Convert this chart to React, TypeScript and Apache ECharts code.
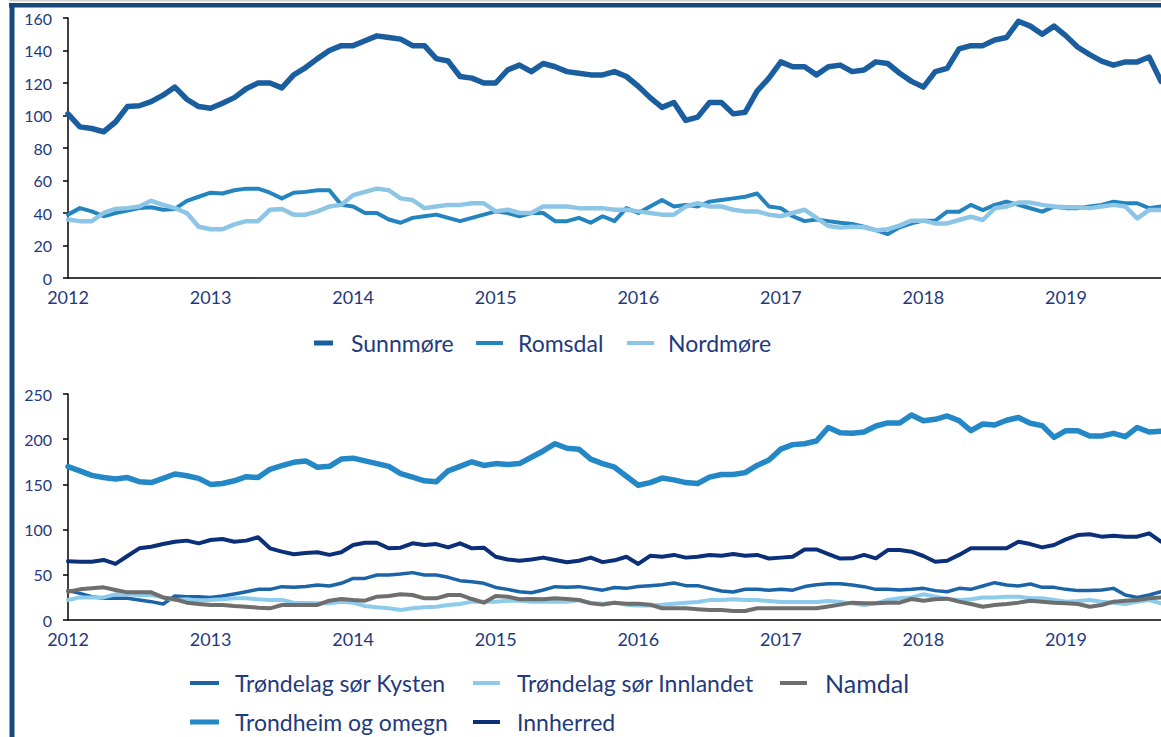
import React, { useEffect, useRef } from "react";
import * as echarts from "echarts";

// ---- categories (monthly, Jan 2012 – Sep 2019) ----
const years = ["2012", "2013", "2014", "2015", "2016", "2017", "2018", "2019"];
const monthNames = ["01", "02", "03", "04", "05", "06", "07", "08", "09", "10", "11", "12"];
const months: string[] = [];
years.forEach((y) => monthNames.forEach((m) => months.push(`${y}-${m}`)));
const categories = months.slice(0, 93);

// ---- top chart series ----
const sunnmore = [
  101, 93, 92, 90, 96, 105.5, 106, 108.5, 112.5, 117.5,
  110, 105.5, 104.5, 107.5, 111, 116.5, 120, 120, 117, 125,
  129.5, 135, 140, 143, 143, 146, 149, 148, 147, 143,
  143, 135, 133.5, 124, 123, 120, 120, 128, 131, 127,
  132, 130, 127, 126, 125, 125, 127, 124, 118, 111,
  105, 108, 97, 99, 108, 108, 101, 102, 115, 123,
  133, 130, 130, 125, 130, 131, 127, 128, 133, 132,
  126, 121, 117.5, 127, 129, 141, 143, 143, 146.5, 148,
  158, 155, 150, 155, 149, 142, 137.5, 133.5, 131, 133,
  133, 136, 121,
];
const romsdal = [
  39, 43, 41, 38, 40, 41.5, 43, 43.5, 42, 42.5,
  47.5, 50, 52.5, 52, 54, 55, 55, 52.5, 49, 52.5,
  53, 54, 54, 45, 44, 40, 40, 36, 34, 37,
  38, 39, 37, 35, 37, 39, 41, 40, 38, 40,
  40, 35, 35, 37, 34, 38, 35, 43, 40, 44,
  48, 44, 45, 44, 47, 48, 49, 50, 52, 44,
  43, 38, 35, 36, 35, 34,
  33.2, 31.6, 29.5, 27, 31.2, 33.6, 35.3, 35.3, 40.8, 40.8,
  45, 41.8, 45, 47, 45, 42.9, 40.8, 43.9, 43, 43,
  44, 45, 47, 46, 46, 43, 44,
];
const nordmore = [
  36, 35, 35, 40, 42.5, 43, 44, 47.5, 45, 43,
  40, 31.5, 30, 30, 33, 35, 35, 42, 42.5, 39,
  39, 41, 44, 45, 51, 53, 55, 54, 49, 48,
  43, 44, 45, 45, 46, 46, 41, 42, 40, 40,
  44, 44, 44, 43, 43, 43, 42, 42, 41, 40,
  39, 39, 44, 46, 44, 44, 42, 41, 41, 39,
  38, 40, 42, 37, 32, 31,
  31.6, 31.2, 29.3, 30, 32.2, 35.3, 35.3, 33.6, 33.6, 35.7,
  37.7, 35.7, 42.9, 44, 46.4, 46.4, 45, 44, 43.5, 43.5,
  43, 44, 45, 44, 36.7, 41.8, 41.8,
];

// ---- bottom chart series ----
const kysten = [
  32.5, 29.5, 25.8, 24, 24, 24, 22.1, 20.3, 17.7, 26.5,
  25.8, 25.8, 25, 26.5, 28.8, 31.3, 33.9, 33.9, 36.9, 36.1,
  37, 38.7, 37.6, 40.6, 46, 46, 49.8, 49.8, 50.9, 52.4,
  49.8, 49.8, 47.2, 43.5, 42.4, 40.6, 36, 33.9, 31.3, 30.2,
  33.2, 36.9, 36.1, 36.9, 35,
  33, 36, 35, 37, 38, 39, 41, 38, 38, 35,
  32, 31, 34, 34, 33, 34, 33, 37, 39, 40, 40,
  38.7, 36.9, 33.9, 33.9, 33.2, 33.9, 35, 32.5, 31.3, 35,
  33.9, 37.6, 41.3, 38.7, 37.6, 39.8, 36.1, 36.1, 33.9, 32.5,
  32.5, 33.2, 35, 27.7, 25, 27.7, 31.3,
];
const innlandet = [
  22.1, 25, 25, 25, 28.4, 28.4, 27.7, 27.7, 25, 22.1,
  22.9, 21.4, 22.1, 22.9, 24, 24, 22.9, 22.1, 22.1, 19.2,
  18.8, 18.4, 18.4, 20.3, 19.2, 15.5, 14, 12.9, 11, 12.9,
  14, 14.7, 16.6, 17.7, 20.3, 20.3, 20.3, 21.4, 21.4, 20.3,
  20.3, 20.3, 20.3, 22.1, 19.2,
  18, 19, 17, 16, 16, 17, 18, 19, 20, 22,
  22, 23, 22, 22, 21, 20, 20, 20, 20, 21, 20,
  18.4, 16.6, 18.4, 22.1, 24, 25, 28.4, 25.8, 23.2, 22.1,
  22.9, 25, 25, 25.8, 25.8, 24, 24, 22.1, 20.3, 21,
  22.1, 20.3, 19.2, 17.7, 20.3, 22.1, 18.4,
];
const namdal = [
  31.3, 33.9, 35, 36.1, 33.2, 30.6, 30.6, 30.6, 25, 22.9,
  19.2, 17.7, 16.6, 16.6, 15.5, 14.7, 13.6, 12.9, 16.6, 16.6,
  16.6, 16.6, 21.4, 23.2, 22.1, 21.4, 25.8, 26.5, 28.4, 27.7,
  24, 24, 27.7, 27.7, 23.2, 19.2, 26.5, 25.8, 22.9, 23.2,
  22.9, 24, 23.2, 22.1, 18.4,
  17, 19, 18, 18, 17, 13, 13, 13, 12, 11,
  11, 10, 10, 13, 13, 13, 13, 13, 13, 15, 17,
  19.2, 18.4, 18.4, 19.2, 19.2, 23.2, 21.4, 22.9, 23.6, 20.3,
  17.7, 14.7, 16.6, 17.7, 19.2, 21.4, 20.3, 19.2, 18.4, 17.7,
  14.7, 16.6, 20.3, 21.4, 22.1, 24, 25,
];
const trondheim = [
  169.6, 165, 160, 157.6, 156, 157.6, 153, 152, 156.7, 161.5,
  159.6, 156.7, 150, 151, 154, 158.5, 157.6, 166.7, 170.7, 174.4,
  176, 169, 170, 178, 179, 176, 173, 170, 162, 158,
  154, 153, 165, 170, 175, 171, 173, 172, 173, 180,
  187, 195, 190, 189, 178, 173, 169, 159, 149, 152,
  157, 155, 152, 151, 158, 161, 161, 163, 171, 177,
  189, 194, 195, 198, 213, 207,
  206.5, 208, 214.6, 218, 218, 226.8, 220.5, 222, 225.7, 220.5,
  209.4, 216.8, 215.7, 221, 224, 217.6, 215, 202, 209.4, 209.4,
  203.5, 203.5, 206.5, 202.8, 213, 208, 208.7,
];
const innherred = [
  65, 64.5, 64.5, 66.4, 62, 70.8, 79.3, 81, 84, 86.6,
  87.8, 84.8, 88.5, 89.6, 86.6, 87.8, 91.5, 79.3, 75.6, 72.7,
  74, 74.9, 72, 74.9, 83, 85.5, 85.5, 79.3, 80, 84.8,
  83, 84, 80.3, 84.8, 79.3, 80, 70, 67, 65.6, 67,
  69, 66.4, 63.8, 65.6, 69,
  64, 66, 70, 62, 71, 70, 72, 69, 70, 72,
  71, 73, 71, 72, 68, 69, 70, 78, 78, 73, 68,
  68.2, 72, 68.2, 77.4, 77.4, 75.6, 70.8, 64.5, 65.6, 72,
  79.3, 79.3, 79.3, 79.3, 86.6, 84, 80.3, 83, 89.2, 94,
  94.8, 92.2, 93.3, 92.2, 92.2, 95.9, 86.6,
];

const NAVY_TEXT = "#1f3a7d";
const FONT = "Lato";

type LegendSpec = {
  name: string;
  left: number;
  cy: number;
  w: number;
  h: number;
  gap: number;
  fontSize: number;
};

const legendSpecs: LegendSpec[] = [
  { name: "Sunnmøre", left: 314, cy: 343, w: 19, h: 5, gap: 18, fontSize: 23 },
  { name: "Romsdal", left: 476, cy: 343, w: 27, h: 4, gap: 15, fontSize: 23 },
  { name: "Nordmøre", left: 627, cy: 343, w: 27, h: 4, gap: 14, fontSize: 23 },
  { name: "Trøndelag sør Kysten", left: 190, cy: 683, w: 29, h: 4, gap: 16, fontSize: 23 },
  { name: "Trøndelag sør Innlandet", left: 473, cy: 683, w: 27, h: 4, gap: 17, fontSize: 23 },
  { name: "Namdal", left: 780, cy: 683, w: 27, h: 4, gap: 18, fontSize: 25 },
  { name: "Trondheim og omegn", left: 190, cy: 722, w: 29, h: 5, gap: 16, fontSize: 23 },
  { name: "Innherred", left: 473, cy: 722, w: 27, h: 4, gap: 17, fontSize: 23 },
];

function lineSeries(name: string, data: number[], color: string, width: number, gi: number) {
  return {
    name,
    type: "line",
    xAxisIndex: gi,
    yAxisIndex: gi,
    data,
    symbol: "none",
    showSymbol: false,
    lineStyle: { color, width, join: "round", cap: "round" },
    itemStyle: { color },
  };
}

export default function App() {
  const ref = useRef<HTMLDivElement>(null);
  useEffect(() => {
    if (!ref.current) return;
    const chart = echarts.init(ref.current, undefined, { renderer: "svg" });
    const xAxisBase = (gi: number) => ({
      type: "category",
      gridIndex: gi,
      data: categories,
      boundaryGap: false,
      axisLine: { show: true, lineStyle: { color: "#000", width: 1.5 } },
      axisTick: { show: false },
      axisLabel: {
        interval: 11,
        formatter: (v: string) => v.slice(0, 4),
        color: NAVY_TEXT,
        fontSize: 18,
        fontFamily: FONT,
        margin: 10,
      },
      splitLine: { show: false },
    });
    const yAxisBase = (gi: number, max: number, interval: number) => ({
      type: "value",
      gridIndex: gi,
      min: 0,
      max,
      interval,
      axisLine: { show: true, lineStyle: { color: "#000", width: 1.5 } },
      axisTick: { show: true, length: 5, lineStyle: { color: "#000", width: 1.5 } },
      axisLabel: { color: NAVY_TEXT, fontSize: 16, fontFamily: FONT, margin: 16 },
      splitLine: { show: false },
    });
    const option = {
      animation: false,
      textStyle: { fontFamily: FONT },
      grid: [
        { left: 68, top: 18, width: 1095, height: 260 },
        { left: 68, top: 394, width: 1095, height: 226 },
      ],
      xAxis: [xAxisBase(0), xAxisBase(1)],
      yAxis: [yAxisBase(0, 160, 20), yAxisBase(1, 250, 50)],
      legend: legendSpecs.map((s) => ({
        left: s.left,
        top: s.cy - 13,
        padding: 0,
        itemWidth: s.w,
        itemHeight: s.h,
        icon: "rect",
        selectedMode: false,
        data: [s.name],
        textStyle: {
          color: NAVY_TEXT,
          fontSize: s.fontSize,
          fontFamily: FONT,
          lineHeight: 26,
          padding: [0, 0, 0, s.gap - 5],
        },
      })),
      series: [
        lineSeries("Sunnmøre", sunnmore, "#1a5e9f", 5.5, 0),
        lineSeries("Romsdal", romsdal, "#2484c0", 4, 0),
        lineSeries("Nordmøre", nordmore, "#8dc5e6", 4.5, 0),
        lineSeries("Trøndelag sør Kysten", kysten, "#1b64a8", 3.5, 1),
        lineSeries("Trøndelag sør Innlandet", innlandet, "#8ccbeb", 4, 1),
        lineSeries("Namdal", namdal, "#6e6e6e", 4, 1),
        lineSeries("Trondheim og omegn", trondheim, "#2388c5", 5.5, 1),
        lineSeries("Innherred", innherred, "#0b2f78", 4, 1),
      ],
      graphic: [
        { type: "rect", left: 9, top: 0, shape: { width: 1152, height: 1.5 }, style: { fill: "#d0d0d0" } },
        { type: "rect", left: 9, top: 3, shape: { width: 1152, height: 4.5 }, style: { fill: "#17497b" } },
        { type: "rect", left: 9.5, top: 3, shape: { width: 5, height: 734 }, style: { fill: "#17497b" } },
      ],
    };
    chart.setOption(option as any);
    return () => chart.dispose();
  }, []);
  return (
    <div
      ref={ref}
      style={{ position: "absolute", left: 0, top: 0, width: 1161, height: 737, background: "#fff" }}
    />
  );
}
